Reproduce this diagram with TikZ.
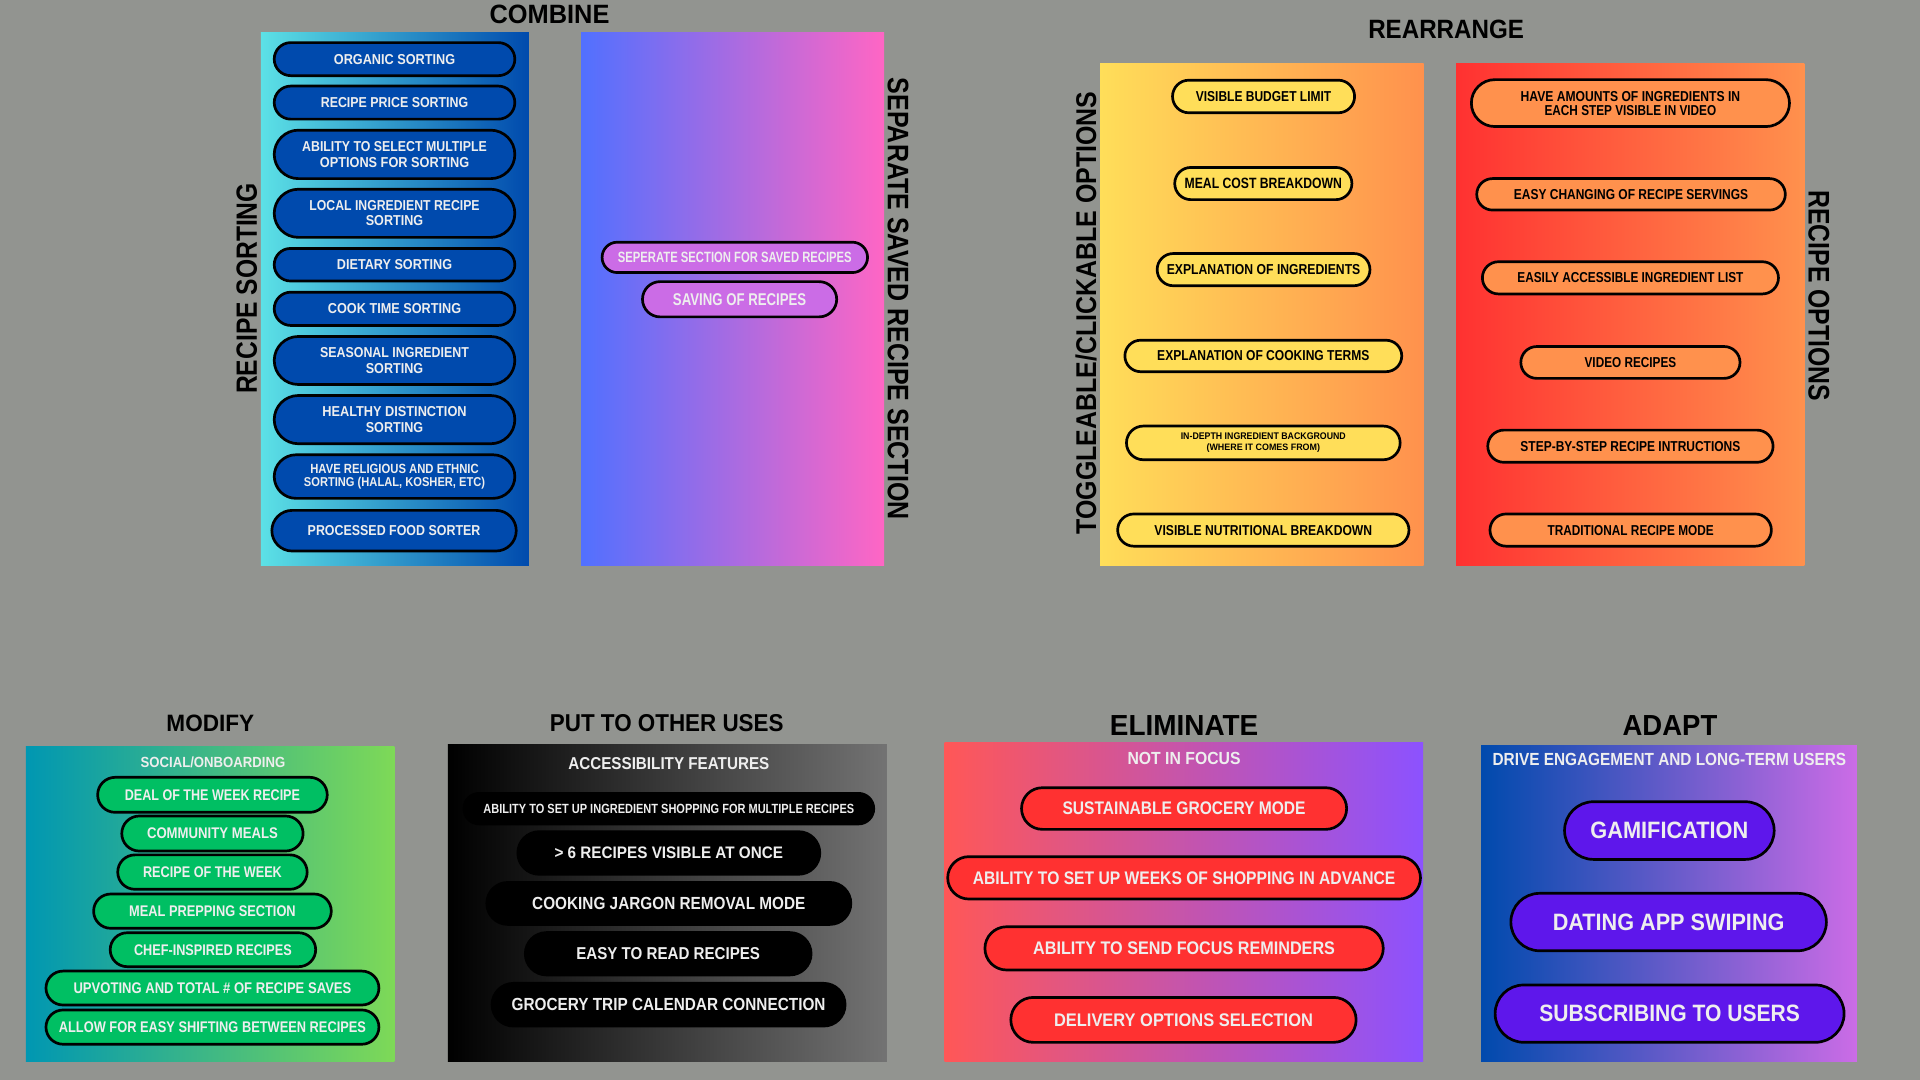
\documentclass[tikz,border=0pt]{standalone}
\usepackage{fontspec}
\setmainfont{Liberation Sans}
\usepackage{graphicx}
\usetikzlibrary{shapes.misc}
\newcommand\tx[3]{\resizebox{#1pt}{#2pt}{\bfseries #3}}
\definecolor{cBg}{RGB}{146,148,144}
\definecolor{cTxt}{HTML}{EEEEEE}
\definecolor{cCyan}{HTML}{5CE1E6}
\definecolor{cBlue}{HTML}{004AAD}
\definecolor{cVio}{HTML}{5170FF}
\definecolor{cPink}{HTML}{FF66C4}
\definecolor{cOrch}{HTML}{CB6CE6}
\definecolor{cYel}{HTML}{FFDE59}
\definecolor{cOra}{HTML}{FF914D}
\definecolor{cRed}{HTML}{FF3131}
\definecolor{cTeal}{HTML}{0097B2}
\definecolor{cLime}{HTML}{7ED957}
\definecolor{cGreen}{HTML}{00BF63}
\definecolor{cGray}{HTML}{737373}
\definecolor{cSalmon}{HTML}{FF5757}
\definecolor{cLav}{HTML}{8C52FF}
\definecolor{cPurp}{HTML}{5E17EB}
\tikzset{
  pill/.style={rounded rectangle, draw=black, line width=2.2pt, inner sep=0pt, outer sep=0pt},
  bluepill/.style={pill, fill=cBlue, text=cTxt},
  savepill/.style={pill, fill=cOrch, text=cTxt},
  yelpill/.style={pill, fill=cYel, text=black},
  orapill/.style={pill, fill=cOra, text=black},
  grnpill/.style={pill, fill=cGreen, text=cTxt},
  blkpill/.style={pill, fill=black, text=cTxt},
  redpill/.style={pill, fill=cRed, text=cTxt},
  purpill/.style={pill, fill=cPurp, text=cTxt},
  two/.style={align=center, font=\fontsize{8}{#1}\selectfont},
  ttl/.style={inner sep=0pt, text=black},
  sub/.style={inner sep=0pt, text=cTxt},
}
\begin{document}
\begin{tikzpicture}[x=1pt,y=-1pt]
\useasboundingbox (0,0) rectangle (1568,882);
\fill[cBg] (0,0) rectangle (1568,882);

% ---------- panels ----------
\shade[left color=cCyan, right color=cBlue] (213,26.9) rectangle (432,461.5);
\shade[left color=cVio, right color=cPink] (474.5,26.9) rectangle (722,461.5);
\shade[left color=cYel, right color=cOra] (898.4,52.2) rectangle (1162.7,461.5);
\shade[left color=cRed, right color=cOra] (1189.1,52.2) rectangle (1473.5,461.5);
\shade[left color=cTeal, right color=cLime] (21.1,609.8) rectangle (322,866.5);
\shade[left color=black, right color=cGray] (365.7,608.4) rectangle (724.3,866.5);
\shade[left color=cSalmon, right color=cLav] (771.4,606.5) rectangle (1162.2,866.5);
\shade[left color=cBlue, right color=cOrch] (1209.6,609.2) rectangle (1516.4,866.5);

% ---------- titles ----------
\node[ttl] (tCombine) at (448.8,12.1) {\tx{97.9}{15.1}{COMBINE}};
\node[ttl] (tRearr) at (1181,24.2) {\tx{127.2}{15.1}{REARRANGE}};
\node[ttl] (tModify) at (171.8,590.4) {\tx{71.7}{13.5}{MODIFY}};
\node[ttl] (tPut) at (544.5,590.4) {\tx{190.8}{13.9}{PUT TO OTHER USES}};
\node[ttl] (tElim) at (967,592.9) {\tx{121.2}{16.3}{ELIMINATE}};
\node[ttl] (tAdapt) at (1363.8,592.9) {\tx{77.3}{16.3}{ADAPT}};

\node[ttl, rotate=90] (tSort) at (201.5,235.6) {\tx{172}{16.7}{RECIPE SORTING}};
\node[ttl, rotate=-90] (tSaved) at (733.5,244) {\tx{361}{16.9}{SEPARATE SAVED RECIPE SECTION}};
\node[ttl, rotate=90] (tToggle) at (887,255.7) {\tx{361.5}{16.9}{TOGGLEABLE/CLICKABLE OPTIONS}};
\node[ttl, rotate=-90] (tRopt) at (1485.4,241.6) {\tx{172}{17}{RECIPE OPTIONS}};

\node[sub] (hSocial) at (173.9,622.3) {\tx{118.1}{8.7}{SOCIAL/ONBOARDING}};
\node[sub] (hAccess) at (546.2,623.4) {\tx{164.1}{9.8}{ACCESSIBILITY FEATURES}};
\node[sub] (hFocus) at (967,619.8) {\tx{92.3}{10}{NOT IN FOCUS}};
\node[sub] (hDrive) at (1363.3,620.1) {\tx{288.7}{10}{DRIVE ENGAGEMENT AND LONG-TERM USERS}};

% ---------- recipe sorting ----------
\node[bluepill, minimum width=196.5pt, minimum height=27pt] (rs1) at (322.2,48.3) {\tx{99}{8.2}{ORGANIC SORTING}};
\node[bluepill, minimum width=196.5pt, minimum height=27pt] (rs2) at (322.2,83.8) {\tx{120.4}{8.2}{RECIPE PRICE SORTING}};
\node[bluepill, two=13pt, minimum width=196.5pt, minimum height=39.6pt] (rs3) at (322.2,126.1) {\tx{150.8}{8.2}{ABILITY TO SELECT MULTIPLE}\\\tx{121.9}{8.2}{OPTIONS FOR SORTING}};
\node[bluepill, two=12.4pt, minimum width=196.5pt, minimum height=39.3pt] (rs4) at (322.2,174.2) {\tx{139}{8.2}{LOCAL INGREDIENT RECIPE}\\\tx{46.9}{8.2}{SORTING}};
\node[bluepill, minimum width=196.5pt, minimum height=26.6pt] (rs5) at (322.2,216.2) {\tx{94}{8.2}{DIETARY SORTING}};
\node[bluepill, minimum width=196.5pt, minimum height=27.2pt] (rs6) at (322.2,252.2) {\tx{108.8}{8.2}{COOK TIME SORTING}};
\node[bluepill, two=12.4pt, minimum width=196.5pt, minimum height=39.2pt] (rs7) at (322.2,294.4) {\tx{121.5}{8.2}{SEASONAL INGREDIENT}\\\tx{46.9}{8.2}{SORTING}};
\node[bluepill, two=13pt, minimum width=196.5pt, minimum height=39.4pt] (rs8) at (322.2,342.7) {\tx{117.8}{8.2}{HEALTHY DISTINCTION}\\\tx{46.9}{8.2}{SORTING}};
\node[bluepill, two=11.2pt, minimum width=196.5pt, minimum height=35.6pt] (rs9) at (322.2,389.2) {\tx{137.6}{7.6}{HAVE RELIGIOUS AND ETHNIC}\\\tx{148}{7.6}{SORTING (HALAL, KOSHER, ETC)}};
\node[bluepill, minimum width=199.6pt, minimum height=33.2pt] (rs10) at (321.8,433.4) {\tx{141}{8.2}{PROCESSED FOOD SORTER}};

% ---------- saved recipes ----------
\node[savepill, minimum width=216.8pt, minimum height=24.8pt] (sv1) at (600.1,210.2) {\tx{191}{8.5}{SEPERATE SECTION FOR SAVED RECIPES}};
\node[savepill, minimum width=158.6pt, minimum height=28.8pt] (sv2) at (604,244.4) {\tx{108.8}{9.7}{SAVING OF RECIPES}};

% ---------- toggleable options ----------
\node[yelpill, minimum width=148.7pt, minimum height=26.6pt] (to1) at (1031.9,78.8) {\tx{110.6}{8.2}{VISIBLE BUDGET LIMIT}};
\node[yelpill, minimum width=144.7pt, minimum height=26.3pt] (to2) at (1031.7,149.9) {\tx{128.5}{8.5}{MEAL COST BREAKDOWN}};
\node[yelpill, minimum width=173.8pt, minimum height=26.3pt] (to3) at (1031.9,220.2) {\tx{158.1}{8.2}{EXPLANATION OF INGREDIENTS}};
\node[yelpill, minimum width=226.1pt, minimum height=25.7pt] (to4) at (1031.7,290.7) {\tx{173.3}{8.2}{EXPLANATION OF COOKING TERMS}};
\node[yelpill, two=8.8pt, minimum width=223.5pt, minimum height=27.5pt] (to5) at (1031.7,361.7) {\tx{134.8}{5.5}{IN-DEPTH INGREDIENT BACKGROUND}\\\tx{92.7}{5.5}{(WHERE IT COMES FROM)}};
\node[yelpill, minimum width=237.9pt, minimum height=26.3pt] (to6) at (1031.7,432.9) {\tx{177.8}{8.2}{VISIBLE NUTRITIONAL BREAKDOWN}};

% ---------- recipe options ----------
\node[orapill, two=11.5pt, minimum width=259.8pt, minimum height=38.3pt] (ro1) at (1331.5,84.2) {\tx{179.2}{8.2}{HAVE AMOUNTS OF INGREDIENTS IN}\\\tx{140.2}{8.2}{EACH STEP VISIBLE IN VIDEO}};
\node[orapill, minimum width=252pt, minimum height=25.7pt] (ro2) at (1332,158.7) {\tx{191.3}{8.2}{EASY CHANGING OF RECIPE SERVINGS}};
\node[orapill, minimum width=241.8pt, minimum height=26.3pt] (ro3) at (1331.5,226.9) {\tx{184.5}{8.2}{EASILY ACCESSIBLE INGREDIENT LIST}};
\node[orapill, minimum width=179pt, minimum height=26pt] (ro4) at (1331.5,296) {\tx{74.8}{8.2}{VIDEO RECIPES}};
\node[orapill, minimum width=233pt, minimum height=26.3pt] (ro5) at (1331.5,364.4) {\tx{179.6}{8.2}{STEP-BY-STEP RECIPE INTRUCTIONS}};
\node[orapill, minimum width=229.8pt, minimum height=26.3pt] (ro6) at (1331.7,432.9) {\tx{135.7}{8.2}{TRADITIONAL RECIPE MODE}};

% ---------- modify ----------
\node[grnpill, minimum width=187.5pt, minimum height=28.6pt] (md1) at (173.5,649.1) {\tx{143}{8.8}{DEAL OF THE WEEK RECIPE}};
\node[grnpill, minimum width=148.1pt, minimum height=28.6pt] (md2) at (173.5,680.7) {\tx{106.9}{8.8}{COMMUNITY MEALS}};
\node[grnpill, minimum width=154.7pt, minimum height=28.1pt] (md3) at (173.5,712.2) {\tx{113.4}{8.8}{RECIPE OF THE WEEK}};
\node[grnpill, minimum width=194.1pt, minimum height=28pt] (md4) at (173.5,744.1) {\tx{136}{8.8}{MEAL PREPPING SECTION}};
\node[grnpill, minimum width=167.8pt, minimum height=27.7pt] (md5) at (173.9,775.6) {\tx{128.9}{8.8}{CHEF-INSPIRED RECIPES}};
\node[grnpill, minimum width=271.9pt, minimum height=27.7pt] (md6) at (173.5,806.9) {\tx{226.9}{8.8}{UPVOTING AND TOTAL \# OF RECIPE SAVES}};
\node[grnpill, minimum width=271.9pt, minimum height=28pt] (md7) at (173.5,838.8) {\tx{250.8}{8.8}{ALLOW FOR EASY SHIFTING BETWEEN RECIPES}};

% ---------- put to other uses ----------
\node[blkpill, minimum width=334.7pt, minimum height=25pt] (pu1) at (546.2,660.4) {\tx{302.8}{7.6}{ABILITY TO SET UP INGREDIENT SHOPPING FOR MULTIPLE RECIPES}};
\node[blkpill, minimum width=246.6pt, minimum height=34.8pt] (pu2) at (546.2,696.6) {\tx{186.6}{9.5}{> 6 RECIPES VISIBLE AT ONCE}};
\node[blkpill, minimum width=297.3pt, minimum height=34.3pt] (pu3) at (546.2,737.8) {\tx{223.1}{10}{COOKING JARGON REMOVAL MODE}};
\node[blkpill, minimum width=233.4pt, minimum height=34.6pt] (pu4) at (545.7,778.9) {\tx{150}{9.8}{EASY TO READ RECIPES}};
\node[blkpill, minimum width=288.3pt, minimum height=34.9pt] (pu5) at (546,820.5) {\tx{256.4}{10}{GROCERY TRIP CALENDAR CONNECTION}};

% ---------- eliminate ----------
\node[redpill, minimum width=265.5pt, minimum height=34pt] (el1) at (967,660.3) {\tx{198.5}{10.4}{SUSTAINABLE GROCERY MODE}};
\node[redpill, minimum width=386.1pt, minimum height=34.6pt] (el2) at (967,716.9) {\tx{345}{10.4}{ABILITY TO SET UP WEEKS OF SHOPPING IN ADVANCE}};
\node[redpill, minimum width=325.3pt, minimum height=35.3pt] (el3) at (967,774.5) {\tx{246.5}{10.4}{ABILITY TO SEND FOCUS REMINDERS}};
\node[redpill, minimum width=282pt, minimum height=36.7pt] (el4) at (966.5,832.9) {\tx{211.4}{10.4}{DELIVERY OPTIONS SELECTION}};

% ---------- adapt ----------
\node[purpill, minimum width=171.2pt, minimum height=47.1pt] (ad1) at (1363.3,678.3) {\tx{128.9}{13.5}{GAMIFICATION}};
\node[purpill, minimum width=257.7pt, minimum height=46.9pt] (ad2) at (1362.7,753) {\tx{189.2}{13.5}{DATING APP SWIPING}};
\node[purpill, minimum width=285pt, minimum height=46.8pt] (ad3) at (1363.5,827.8) {\tx{212.9}{13.5}{SUBSCRIBING TO USERS}};
\end{tikzpicture}
\end{document}
